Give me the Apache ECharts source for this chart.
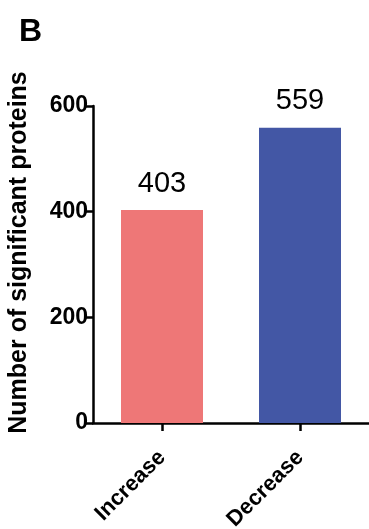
<!DOCTYPE html>
<html>
<head>
<meta charset="utf-8">
<script src="https://cdn.jsdelivr.net/npm/echarts@6/dist/echarts.min.js"></script>
<style>
  html, body { margin: 0; padding: 0; background: #fff; }
  #chart { width: 369px; height: 529px; }
</style>
</head>
<body>
<div id="chart"></div>
<script>
// Significant protein counts by direction of change
const categories = ['Increase', 'Decrease'];
const counts = [403, 559];
const barColors = ['#EE7777', '#4357A5'];
const yTicks = [0, 200, 400, 600];

const chart = echarts.init(document.getElementById('chart'));
const font = 'Arial, "Liberation Sans", Helvetica, sans-serif';

chart.setOption({
  animation: false,
  title: {
    text: 'B',
    left: 14,
    top: 11,
    textStyle: { fontFamily: font, fontSize: 32, fontWeight: 'bold', color: '#000' }
  },
  grid: { left: 93, right: 0, top: 106, bottom: 106, outerBoundsMode: 'none', containLabel: false },
  xAxis: {
    type: 'category',
    data: categories,
    axisLine: { lineStyle: { color: '#000', width: 2.5 } },
    axisTick: { show: true, alignWithLabel: true, length: 8, lineStyle: { color: '#000', width: 2.5 } },
    axisLabel: {
      rotate: 45,
      margin: 31,
      fontFamily: font,
      fontSize: 22,
      fontWeight: 'bold',
      color: '#000'
    }
  },
  yAxis: {
    type: 'value',
    min: yTicks[0],
    max: yTicks[yTicks.length - 1],
    interval: yTicks[1] - yTicks[0],
    name: 'Number of significant proteins',
    nameLocation: 'middle',
    nameGap: 61,
    nameTextStyle: {
      fontFamily: font,
      fontSize: 25,
      fontWeight: 'bold',
      color: '#000',
      padding: [0, 0, 0, 24]
    },
    splitLine: { show: false },
    axisLine: { show: true, lineStyle: { color: '#000', width: 2.5 } },
    axisTick: { show: true, length: 9, lineStyle: { color: '#000', width: 2.5 } },
    axisLabel: {
      margin: 5,
      fontFamily: font,
      fontSize: 23,
      fontWeight: 'bold',
      color: '#000'
    }
  },
  series: [{
    type: 'bar',
    data: counts.map((v, i) => ({ value: v, itemStyle: { color: barColors[i] } })),
    barWidth: 82,
    label: {
      show: true,
      position: 'top',
      distance: 12,
      fontFamily: font,
      fontSize: 29,
      color: '#000'
    }
  }]
});
</script>
</body>
</html>
